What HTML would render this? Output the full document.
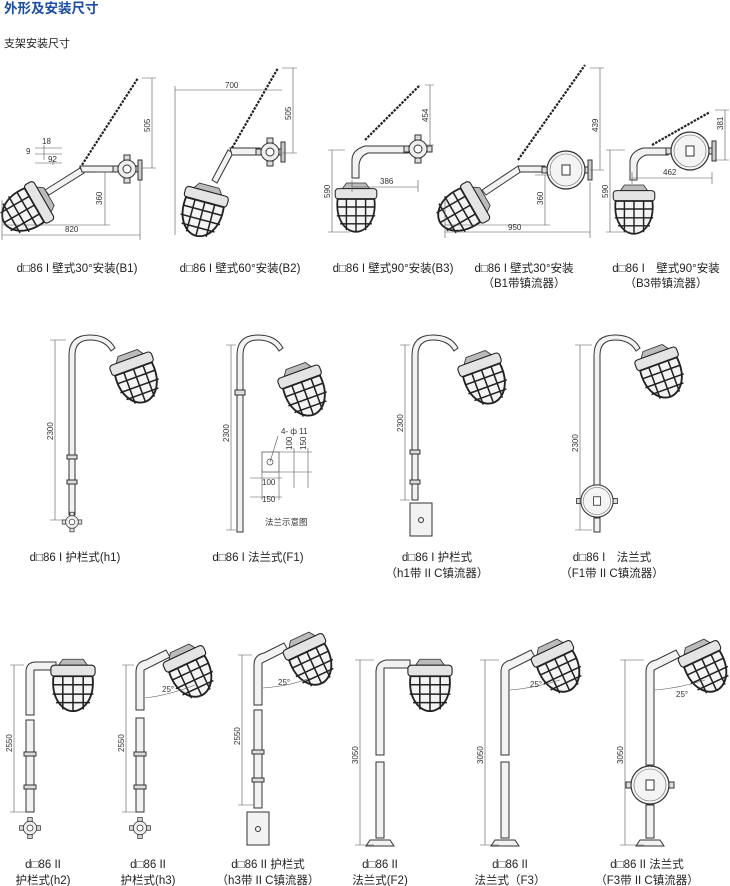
<!DOCTYPE html>
<html><head><meta charset="utf-8"><style>
html,body{margin:0;padding:0;background:#fff}
svg{display:block}
text{font-family:"Liberation Sans","Noto Sans CJK SC",sans-serif;fill:#222}
.c{font-size:11.5px;text-anchor:middle}
.d{font-size:8px;fill:#333}
.dl{stroke:#555;stroke-width:.6;fill:none}
.p{stroke:#333;stroke-width:1;fill:#f2f2f2}
.ch{stroke:#222;stroke-width:2.2;stroke-dasharray:2.5 1.2;fill:none}
</style></head><body>
<svg width="730" height="886" viewBox="0 0 730 886" xmlns="http://www.w3.org/2000/svg">
<defs>
<g id="lamp">
 <path d="M-12,-15 h24 l5,7 h-34z" fill="#bbb" stroke="#333"/>
 <rect x="-26" y="-8" width="52" height="13" rx="4" fill="#e4e4e4" stroke="#222" stroke-width="1.3"/>
 <path d="M-23,5 C-26,32 -12,46 0,46 C12,46 26,32 23,5Z" fill="#f4f4f4" stroke="#222" stroke-width="2.2"/>
 <path d="M-12,5 V44 M0,5 V46 M12,5 V44 M-24,15 H24 M-24,26 H24 M-20,36 H20" stroke="#222" stroke-width="1.8" fill="none"/>
</g>
<g id="jb">
 <circle r="9" fill="#eee" stroke="#333"/><circle r="4" fill="#fff" stroke="#333"/>
 <rect x="-14" y="-3" width="5" height="6" fill="#ddd" stroke="#333"/><rect x="9" y="-3" width="5" height="6" fill="#ddd" stroke="#333"/>
 <rect x="-3" y="-14" width="6" height="5" fill="#ddd" stroke="#333"/><rect x="-3" y="9" width="6" height="5" fill="#ddd" stroke="#333"/>
</g>
<g id="bc">
 <circle r="19" fill="#f4f4f4" stroke="#333" stroke-width="1.2"/><circle r="16" fill="none" stroke="#666" stroke-width=".6"/>
 <rect x="-4" y="-5" width="8" height="10" fill="#fff" stroke="#333"/>
 <rect x="-24" y="-3" width="5" height="6" fill="#ddd" stroke="#333"/><rect x="19" y="-3" width="5" height="6" fill="#ddd" stroke="#333"/>
</g>
<g id="box"><rect x="0" y="0" width="22" height="33" fill="#f2f2f2" stroke="#333"/><circle cx="11" cy="17" r="2.5" fill="none" stroke="#333"/></g>
</defs>

<text x="4" y="13" style="font-size:13.5px;font-weight:bold;fill:#1a4ea6">外形及安装尺寸</text>
<text x="4" y="47" style="font-size:11px">支架安装尺寸</text>

<!-- B1 -->
<line class="ch" x1="80" y1="168" x2="138" y2="78"/>
<path class="p" d="M45,190 L80,168 L84,173 L49,195Z"/>
<path class="p" d="M80,166 L118,166 L118,172 L82,172Z"/>
<use href="#jb" x="127" y="169"/>
<rect x="138" y="160" width="4" height="20" fill="#ccc" stroke="#333"/>
<use href="#lamp" transform="translate(38,203) rotate(60) scale(.85)"/>
<path class="dl" d="M142,78H156 M152,78V168 M142,168H156 M96,172H110 M105,172V225 M2,225H110 M2,200V240 M140,180V240 M2,235H140"/>
<text class="d" transform="translate(150,132) rotate(-90)">505</text>
<text class="d" transform="translate(102,205) rotate(-90)">360</text>
<text class="d" x="65" y="232">820</text>
<path class="dl" d="M35,148H62 M35,154H62 M44,145V160 M53,160V165 M35,163H62"/>
<text class="d" x="42" y="144">18</text><text class="d" x="48" y="162">92</text><text class="d" x="26" y="154">9</text>

<!-- B2 -->
<line class="ch" x1="232" y1="148" x2="278" y2="68"/>
<path class="p" d="M212,180 L228,150 L233,153 L217,183Z"/>
<path class="p" d="M230,148 L260,148 L260,155 L232,155Z"/>
<use href="#jb" x="270" y="152"/>
<rect x="281" y="142" width="4" height="20" fill="#ccc" stroke="#333"/>
<use href="#lamp" transform="translate(206,198) rotate(15) scale(.85)"/>
<path class="dl" d="M175,90H282 M175,86V235 M282,68H297 M293,68V153 M282,153H297"/>
<text class="d" x="225" y="88">700</text>
<text class="d" transform="translate(291,120) rotate(-90)">505</text>

<!-- B3 -->
<line class="ch" x1="365" y1="140" x2="420" y2="85"/>
<path class="p" d="M352,178 V160 Q352,150 365,146 L416,146 L416,153 L368,153 Q360,156 359,165 V178Z"/>
<use href="#jb" x="418" y="149"/>
<use href="#lamp" transform="translate(356,195) scale(.8)"/>
<path class="dl" d="M425,85H434 M430,85V145 M425,145H434 M328,150H345 M332,150V232 M328,232H350 M352,187H418 M352,180V192 M418,180V192"/>
<text class="d" transform="translate(428,122) rotate(-90)">454</text>
<text class="d" transform="translate(330,198) rotate(-90)">590</text>
<text class="d" x="380" y="184">386</text>

<!-- B1 ballast -->
<line class="ch" x1="518" y1="160" x2="585" y2="65"/>
<path class="p" d="M482,190 L518,166 L522,171 L486,195Z"/>
<path class="p" d="M518,166 L545,166 L545,172 L520,172Z"/>
<use href="#bc" x="566" y="170"/>
<rect x="588" y="160" width="4" height="20" fill="#ccc" stroke="#333"/>
<use href="#lamp" transform="translate(474,203) rotate(60) scale(.85)"/>
<path class="dl" d="M590,68H604 M600,68V170 M590,170H604 M535,175H550 M545,175V225 M445,225H550 M445,200V238 M590,182V238 M445,232H590"/>
<text class="d" transform="translate(598,132) rotate(-90)">439</text>
<text class="d" transform="translate(543,205) rotate(-90)">360</text>
<text class="d" x="508" y="230">950</text>

<!-- B3 ballast -->
<line class="ch" x1="652" y1="145" x2="710" y2="112"/>
<path class="p" d="M630,180 V162 Q630,152 643,148 L668,148 L668,155 L646,155 Q638,158 637,165 V180Z"/>
<use href="#bc" x="690" y="151"/>
<rect x="712" y="141" width="4" height="20" fill="#ccc" stroke="#333"/>
<use href="#lamp" transform="translate(634,197) scale(.8)"/>
<path class="dl" d="M715,110H729 M725,110V160 M715,160H729 M606,150H625 M610,150V232 M606,232H630 M632,178H712 M632,172V184 M712,172V184"/>
<text class="d" transform="translate(723,130) rotate(-90)">381</text>
<text class="d" transform="translate(608,198) rotate(-90)">590</text>
<text class="d" x="663" y="175">462</text>

<text class="c" x="77" y="272">d□86 I 壁式30°安装(B1)</text>
<text class="c" x="240" y="272">d□86 I 壁式60°安装(B2)</text>
<text class="c" x="393" y="272">d□86 I 壁式90°安装(B3)</text>
<text class="c" x="524" y="272">d□86 I 壁式30°安装</text>
<text class="c" x="524" y="287">（B1带镇流器）</text>
<text class="c" x="666" y="272">d□86 I　壁式90°安装</text>
<text class="c" x="666" y="287">（B3带镇流器）</text>

<!-- Row 2 -->
<path class="p" d="M69,515 V355 Q69,335 90,335 Q108,335 115,348 L111,351 Q105,340 90,340 Q75,340 75,355 V515Z"/>
<rect x="67" y="455" width="10" height="4" fill="#ddd" stroke="#333"/><rect x="67" y="480" width="10" height="4" fill="#ddd" stroke="#333"/>
<use href="#jb" transform="translate(72,522) scale(.7)"/>
<use href="#lamp" transform="translate(132,365) rotate(-20) scale(.85)"/>
<path class="dl" d="M50,340H66 M55,340V520 M50,520H66"/>
<text class="d" transform="translate(53,440) rotate(-90)">2300</text>

<path class="p" d="M237,532 V355 Q237,335 258,335 Q276,335 283,348 L279,351 Q273,340 258,340 Q243,340 243,355 V532Z"/>
<rect x="235" y="390" width="10" height="5" fill="#ddd" stroke="#333"/>
<use href="#lamp" transform="translate(300,378) rotate(-20) scale(.85)"/>
<path class="dl" d="M226,345H236 M231,345V530 M226,530H236"/>
<text class="d" transform="translate(229,442) rotate(-90)">2300</text>
<rect x="262" y="452" width="17" height="20" fill="#fff" stroke="#444" stroke-width=".7"/>
<circle cx="270" cy="462" r="3" fill="none" stroke="#444" stroke-width=".7"/>
<path class="dl" d="M279,452H312 M279,472H312 M294,448V488 M308,448V488 M250,478H282 M250,497H282 M262,472V500 M279,472V500 M278,436L270,462"/>
<text class="d" x="281" y="434">4- ф 11</text>
<text class="d" transform="translate(292,450) rotate(-90)">100</text>
<text class="d" transform="translate(306,450) rotate(-90)">150</text>
<text class="d" x="262" y="485">100</text><text class="d" x="262" y="502">150</text>
<text x="265" y="525" style="font-size:8.5px;fill:#333">法兰示意图</text>

<path class="p" d="M412,500 V355 Q412,335 433,335 Q451,335 458,348 L454,351 Q448,340 433,340 Q418,340 418,355 V500Z"/>
<rect x="410" y="450" width="10" height="4" fill="#ddd" stroke="#333"/><rect x="410" y="480" width="10" height="4" fill="#ddd" stroke="#333"/>
<use href="#box" x="410" y="503"/>
<use href="#lamp" transform="translate(480,366) rotate(-20) scale(.85)"/>
<path class="dl" d="M400,345H410 M405,345V500 M400,500H410"/>
<text class="d" transform="translate(403,432) rotate(-90)">2300</text>

<path class="p" d="M594,485 V355 Q594,335 615,335 Q633,335 640,348 L636,351 Q630,340 615,340 Q600,340 600,355 V485Z"/>
<path class="p" d="M594,518 V532 H600 V518Z"/>
<use href="#bc" transform="translate(597,501) scale(.85)"/>
<use href="#lamp" transform="translate(657,360) rotate(-20) scale(.85)"/>
<path class="dl" d="M575,345H592 M580,345V530 M575,530H592"/>
<text class="d" transform="translate(578,452) rotate(-90)">2300</text>

<text class="c" x="75" y="561">d□86 I 护栏式(h1)</text>
<text class="c" x="258" y="561">d□86 I 法兰式(F1)</text>
<text class="c" x="437" y="561">d□86 I 护栏式</text>
<text class="c" x="437" y="577">（h1带 II C镇流器）</text>
<text class="c" x="612" y="561">d□86 I　法兰式</text>
<text class="c" x="612" y="577">（F1带 II C镇流器）</text>

<!-- Row 3 -->
<path class="p" d="M26,715 V672 Q26,662 36,662 H56 V670 H34 V715Z"/>
<path class="p" d="M26,720 V812 H34 V720Z"/>
<rect x="24" y="752" width="12" height="4" fill="#ddd" stroke="#333"/><rect x="24" y="785" width="12" height="4" fill="#ddd" stroke="#333"/>
<use href="#jb" transform="translate(30,828) scale(.75)"/>
<use href="#lamp" transform="translate(73,672) scale(.85)"/>
<path class="dl" d="M10,665H24 M14,665V812 M10,812H26"/>
<text class="d" transform="translate(12,752) rotate(-90)">2550</text>

<path class="p" d="M136,710 V672 Q136,662 146,660 L166,650 L170,657 L144,670 V710Z"/>
<path class="p" d="M136,718 V812 H144 V718Z"/>
<rect x="134" y="752" width="12" height="4" fill="#ddd" stroke="#333"/><rect x="134" y="785" width="12" height="4" fill="#ddd" stroke="#333"/>
<use href="#jb" transform="translate(140,828) scale(.75)"/>
<use href="#lamp" transform="translate(185,660) rotate(-25) scale(.85)"/>
<path class="dl" d="M145,698 Q170,695 195,685"/><text class="d" x="162" y="692">25°</text>
<path class="dl" d="M122,665H134 M126,665V812 M122,812H136"/>
<text class="d" transform="translate(124,752) rotate(-90)">2550</text>

<path class="p" d="M254,705 V665 Q254,655 264,653 L284,643 L288,650 L262,663 V705Z"/>
<path class="p" d="M254,710 V808 H262 V710Z"/>
<rect x="252" y="750" width="12" height="4" fill="#ddd" stroke="#333"/><rect x="252" y="778" width="12" height="4" fill="#ddd" stroke="#333"/>
<use href="#box" x="247" y="812"/>
<use href="#lamp" transform="translate(305,648) rotate(-25) scale(.85)"/>
<path class="dl" d="M263,688 Q290,686 310,678"/><text class="d" x="278" y="685">25°</text>
<path class="dl" d="M238,655H252 M242,655V805 M238,805H254"/>
<text class="d" transform="translate(240,745) rotate(-90)">2550</text>

<path class="p" d="M376,755 V672 Q376,662 386,660 H410 V668 H384 V755Z"/>
<path class="p" d="M376,762 V838 H384 V762Z"/>
<path class="p" d="M370,840 H390 L394,846 H366Z"/>
<use href="#lamp" transform="translate(430,672) scale(.85)"/>
<path class="dl" d="M355,660H374 M360,660V845 M355,845H374"/>
<text class="d" transform="translate(358,764) rotate(-90)">3050</text>

<path class="p" d="M501,755 V672 Q501,662 511,660 L531,650 L535,657 L509,670 V755Z"/>
<path class="p" d="M501,762 V838 H509 V762Z"/>
<path class="p" d="M495,840 H515 L519,846 H491Z"/>
<use href="#lamp" transform="translate(553,655) rotate(-25) scale(.85)"/>
<path class="dl" d="M510,690 Q535,688 560,680"/><text class="d" x="530" y="687">25°</text>
<path class="dl" d="M480,660H499 M485,660V845 M480,845H499"/>
<text class="d" transform="translate(483,764) rotate(-90)">3050</text>

<path class="p" d="M646,765 V672 Q646,662 656,660 L676,650 L680,657 L654,670 V765Z"/>
<path class="p" d="M646,805 V838 H654 V805Z"/>
<path class="p" d="M640,840 H660 L664,846 H636Z"/>
<use href="#bc" x="650" y="785"/>
<use href="#lamp" transform="translate(700,655) rotate(-25) scale(.85)"/>
<path class="dl" d="M655,690 Q680,688 705,680"/><text class="d" x="676" y="697">25°</text>
<path class="dl" d="M620,660H644 M625,660V845 M620,845H644"/>
<text class="d" transform="translate(623,764) rotate(-90)">3050</text>

<text class="c" x="43" y="868">d□86 II</text>
<text class="c" x="43" y="884">护栏式(h2)</text>
<text class="c" x="148" y="868">d□86 II</text>
<text class="c" x="148" y="884">护栏式(h3)</text>
<text class="c" x="268" y="868">d□86 II 护栏式</text>
<text class="c" x="268" y="884">（h3带 II C镇流器）</text>
<text class="c" x="380" y="868">d□86 II</text>
<text class="c" x="380" y="884">法兰式(F2)</text>
<text class="c" x="510" y="868">d□86 II</text>
<text class="c" x="510" y="884">法兰式（F3）</text>
<text class="c" x="647" y="868">d□86 II 法兰式</text>
<text class="c" x="647" y="884">（F3带 II C镇流器）</text>
</svg>
</body></html>
